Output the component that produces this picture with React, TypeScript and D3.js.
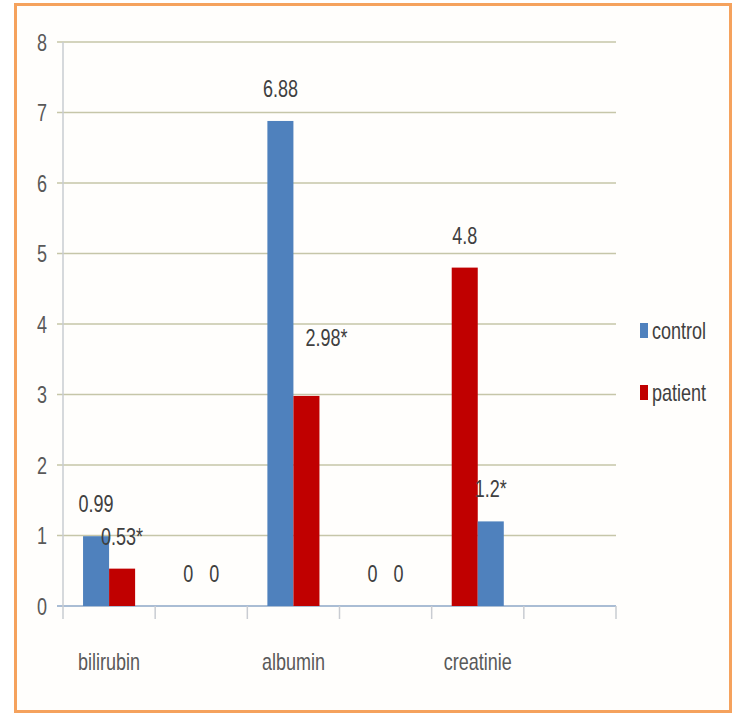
import * as d3 from "d3";
import React from "react";

// chart values
const categories = ["bilirubin", "gap1", "albumin", "gap2", "creatinie", "gap3"];
const categoryLabels = ["bilirubin", "", "albumin", "", "creatinie", ""];
const seriesNames = ["control", "patient"];
const controlValues = [0.99, 0, 6.88, 0, 4.8, null];
const patientValues = [0.53, 0, 2.98, 0, 1.2, null];
const controlLabels = ["0.99", "0", "6.88", "0", "4.8", ""];
const patientLabels = ["0.53*", "0", "2.98*", "0", "1.2*", ""];
// in the original the colours of the creatinie pair are swapped
const swappedCategories = ["creatinie"];
const yTicks = [0, 1, 2, 3, 4, 5, 6, 7, 8];

const W = 736;
const H = 713;
const BLUE = "#4F81BD";
const RED = "#C00000";
const FONT = "'Liberation Sans', Arial, sans-serif";

function Txt({ x, y, anchor = "middle", fill = "#595959", size = 24, children }) {
  // the source text is horizontally squeezed, so narrow it a bit
  return (
    <text
      transform={`translate(${x},${y}) scale(0.75,1)`}
      textAnchor={anchor}
      fontFamily={FONT}
      fontSize={size}
      fill={fill}
    >
      {children}
    </text>
  );
}

export default function App() {
  const x = d3.scaleBand().domain(categories).range([63, 616]).padding(0);
  const xs = d3.scaleBand().domain(seriesNames).range([0, x.bandwidth()]).paddingInner(0).paddingOuter(0.77);
  const y = d3.scaleLinear().domain([0, 8]).range([606, 42]);

  const rows = categories.map((c, i) => ({
    cat: c,
    label: categoryLabels[i],
    vals: [controlValues[i], patientValues[i]],
    texts: [controlLabels[i], patientLabels[i]],
  }));

  const colorFor = (cat, si) => {
    const swap = swappedCategories.includes(cat);
    const c = si === 0 ? BLUE : RED;
    return swap ? (si === 0 ? RED : BLUE) : c;
  };

  // the 2.98* label was moved by hand in the source chart
  const nudge = (cat, si) => (cat === "albumin" && si === 1 ? [20, -26] : [0, 0]);

  const boundaries = categories.map((c) => x(c)).concat([x.range()[1]]);

  return (
    <svg width={W} height={H} style={{ position: "absolute", left: 0, top: 0, background: "#fff" }}>
      <rect x={15.5} y={4.5} width={715} height={707} fill="#fffefc" stroke="#F5A25D" strokeWidth={3} />

      {/* gridlines */}
      {yTicks.map((t) => (
        <line key={t} x1={57} x2={616} y1={y(t)} y2={y(t)} stroke={t === 0 ? "#8EA7C7" : "#C6C6A9"} strokeWidth={1.5} />
      ))}
      {/* y axis */}
      <line x1={63} x2={63} y1={42} y2={606} stroke="#C9CCD2" strokeWidth={1.5} />
      {yTicks.map((t) => (
        <Txt key={"yl" + t} x={47} y={y(t) + 8.5} anchor="end">{t}</Txt>
      ))}

      {/* x ticks */}
      {boundaries.map((b, i) => (
        <line key={"xt" + i} x1={b} x2={b} y1={606} y2={619} stroke="#C9CCD2" strokeWidth={1.5} />
      ))}

      {/* bars */}
      {rows.map((r) =>
        r.vals.map((v, si) =>
          v == null ? null : (
            <rect
              key={r.cat + si}
              x={x(r.cat) + xs(seriesNames[si])}
              y={y(v)}
              width={xs.bandwidth()}
              height={y(0) - y(v)}
              fill={colorFor(r.cat, si)}
            />
          )
        )
      )}

      {/* value labels */}
      {rows.map((r) =>
        r.vals.map((v, si) => {
          if (v == null || !r.texts[si]) return null;
          const [dx, dy] = nudge(r.cat, si);
          const cx = x(r.cat) + xs(seriesNames[si]) + xs.bandwidth() / 2;
          return (
            <Txt key={"vl" + r.cat + si} x={cx + dx} y={y(v) - 24 + dy} fill="#404040">
              {r.texts[si]}
            </Txt>
          );
        })
      )}

      {/* category labels */}
      {rows.map((r) =>
        r.label ? (
          <Txt key={"cl" + r.cat} x={x(r.cat) + x.bandwidth() / 2} y={670}>
            {r.label}
          </Txt>
        ) : null
      )}

      {/* legend */}
      {seriesNames.map((s, i) => (
        <g key={s}>
          <rect x={640} y={323 + i * 62} width={8} height={15} fill={i === 0 ? BLUE : RED} />
          <Txt x={652} y={339 + i * 62} anchor="start" fill="#404040">{s}</Txt>
        </g>
      ))}
    </svg>
  );
}
